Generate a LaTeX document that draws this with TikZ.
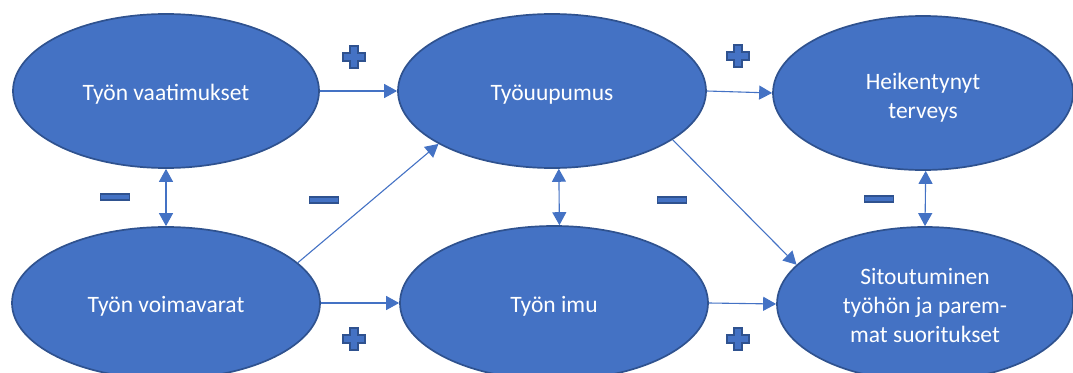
\documentclass[tikz,border=0pt]{standalone}
\usepackage{fontspec}
\setmainfont{Carlito}
\usetikzlibrary{shapes.geometric,arrows.meta}
\definecolor{fillblue}{HTML}{4472C4}
\definecolor{edgeblue}{HTML}{2F528F}
\begin{document}
\begin{tikzpicture}[x=1pt,y=-1pt,
  oval/.style={ellipse, fill=fillblue, draw=edgeblue, line width=1.7pt, inner sep=0pt,
    text=white, align=center, font=\fontsize{23.5}{29}\selectfont, text height=22pt},
  conn/.style={draw=fillblue, line width=1.1pt, -{Triangle[length=13pt,width=14pt]}},
  biconn/.style={draw=fillblue, line width=1.1pt,
    {Triangle[length=13pt,width=14pt]}-{Triangle[length=13pt,width=14pt]}},
  minussign/.style={draw=edgeblue, fill=fillblue, line width=1.4pt,
    minimum width=29pt, minimum height=6pt, inner sep=0pt, rectangle},
  plussign/.pic={\path[draw=edgeblue, fill=fillblue, line width=1.4pt]
    (-4,-11) -- (4,-11) -- (4,-4) -- (11,-4) -- (11,4) -- (4,4) -- (4,11)
    -- (-4,11) -- (-4,4) -- (-11,4) -- (-11,-4) -- (-4,-4) -- cycle;}
]
\useasboundingbox (0,0) rectangle (1073,372);
\clip (0,0) rectangle (1073,372);

\node[oval, minimum width=306pt, minimum height=154pt] (A) at (166,91) {Työn vaatimukset};
\node[oval, minimum width=308pt, minimum height=154pt] (B) at (552,91) {Työuupumus};
\node[oval, minimum width=300pt, minimum height=154pt, text height=54pt] (C) at (923,93) {Heikentynyt\\terveys};
\node[oval, minimum width=308pt, minimum height=152pt] (D) at (166,303) {Työn voimavarat};
\node[oval, minimum width=308pt, minimum height=154pt] (E) at (554,303) {Työn imu};
\node[oval, minimum width=296pt, minimum height=154pt, text height=77pt] (F) at (925,304) {Sitoutuminen\\työhön ja parem-\\mat suoritukset};

\draw[conn] (A.east) -- (B.west);
\draw[conn] (B.east) -- (C.west);
\draw[conn] (D.east) -- (E.west);
\draw[conn] (E.east) -- (F.west);
\draw[conn] (D.17.5) -- (B.205);
\draw[conn] (B.-22) -- (F.163);
\draw[biconn] (A.south) -- (D.north);
\draw[biconn] (B.-85) -- (E.86);
\draw[biconn] (C.-88) -- (F.north);

\node[minussign] (m1) at (115,197) {};
\node[minussign] (m2) at (324,200) {};
\node[minussign] (m3) at (672,200) {};
\node[minussign] (m4) at (879,199) {};

\pic at (354,57) {plussign};
\pic at (738,56) {plussign};
\pic at (354,339) {plussign};
\pic at (738,339) {plussign};
\end{tikzpicture}
\end{document}
